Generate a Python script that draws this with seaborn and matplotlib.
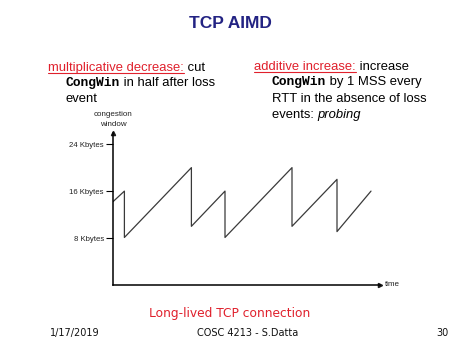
import matplotlib
matplotlib.use("Agg")
import matplotlib.pyplot as plt
import seaborn as sns
import pandas as pd
from matplotlib.lines import Line2D

# sawtooth of the congestion window (time units, Kbytes)
time_pts = [0.0, 1.14, 1.14, 7.84, 7.84, 11.2, 11.2, 17.9, 17.9, 22.4, 22.4, 25.8]
cwnd_kb = [14.2, 16.0, 8.1, 20.0, 10.0, 16.0, 8.1, 20.0, 10.0, 18.0, 9.1, 16.0]
tick_vals = [8, 16, 24]
tick_labels = ["8 Kbytes", "16 Kbytes", "24 Kbytes"]

W, H = 474, 355
RED = "#e0202c"
NAVY = "#232383"

sns.set_theme(style="white")
plt.rcParams['font.family'] = ['Liberation Sans', 'DejaVu Sans']

fig = plt.figure(figsize=(W / 100, H / 100), dpi=100)
fig.patch.set_facecolor("white")

# axes box in pixels: left 113, right 380, bottom 285, top 133
ax = fig.add_axes([113 / W, (H - 285) / H, (380 - 113) / W, (285 - 133) / H])
df = pd.DataFrame({"time": time_pts, "cwnd": cwnd_kb})
sns.lineplot(data=df, x="time", y="cwnd", sort=False, estimator=None,
             color="#3a3a3a", linewidth=0.9, ax=ax)
ax.set_xlim(0, 26.7)
ax.set_ylim(0, 25.9)
sns.despine(ax=ax)
for s in ["left", "bottom"]:
    ax.spines[s].set_color("black")
    ax.spines[s].set_linewidth(1.1)
ax.set_xticks([])
ax.set_yticks(tick_vals)
ax.set_yticklabels(tick_labels, fontsize=5.6, color="#222222")
ax.tick_params(axis="y", direction="out", length=5, width=0.8, color="black",
               left=True, pad=1.5)
ax.set_xlabel("")
ax.set_ylabel("")
ax.plot(1, 0, ">k", markersize=3, transform=ax.transAxes, clip_on=False)
ax.plot(0, 1, "^k", markersize=3, transform=ax.transAxes, clip_on=False)

fig.text(385 / W, 1 - 285 / H, "time", fontsize=5.8, va="center", ha="left", color="#222222")
fig.text(113 / W, 1 - 115 / H, "congestion", fontsize=5.8, ha="center", va="center", color="#222222")
fig.text(113 / W, 1 - 124.5 / H, "window", fontsize=5.8, ha="center", va="center", color="#222222")

# title
fig.text(230 / W, 1 - 27.5 / H, "TCP AIMD", fontsize=12.5, fontweight="bold",
         color=NAVY, ha="center", va="baseline")

renderer = fig.canvas.get_renderer()


def put_line(x, y, pieces, size=9.4):
    # place text pieces one after another on a common baseline (pixel coords)
    for text, style in pieces:
        style = dict(style)
        underline = style.pop("underline", False)
        t = fig.text(x / W, 1 - y / H, text, fontsize=size, va="baseline",
                     ha="left", **style)
        bb = t.get_window_extent(renderer)
        x1 = bb.x1
        if underline:
            fig.add_artist(Line2D([x / W, x1 / W], [1 - (y + 2) / H] * 2,
                                  color=style.get("color", "black"), linewidth=0.8,
                                  transform=fig.transFigure))
        x = x1


red_u = {"color": RED, "underline": True}
blk = {"color": "black"}
mono = {"color": "black", "family": ["Liberation Mono"], "fontweight": "bold"}

put_line(48, 71, [("multiplicative decrease:", red_u), (" cut", blk)])
put_line(66, 86, [("CongWin", mono), (" in half after loss", blk)])
put_line(66, 102, [("event", blk)])

put_line(254, 70, [("additive increase:", red_u), (" increase", blk)])
put_line(272, 85, [("CongWin", mono), (" by 1 MSS every", blk)])
put_line(272, 101.5, [("RTT in the absence of loss", blk)])
put_line(272, 118, [("events: ", blk), ("probing", {"color": "black", "style": "italic"})])

fig.text(230 / W, 1 - 314 / H, "Long-lived TCP connection", fontsize=8.8,
         color=RED, ha="center", va="center", family=["DejaVu Sans"])

fig.text(50 / W, 1 - 333 / H, "1/17/2019", fontsize=7, ha="left", va="center",
         family=["DejaVu Sans"], color="#111111")
fig.text(248 / W, 1 - 333 / H, "COSC 4213 - S.Datta", fontsize=7, ha="center",
         va="center", family=["DejaVu Sans"], color="#111111")
fig.text(449 / W, 1 - 333 / H, "30", fontsize=7, ha="right", va="center",
         family=["DejaVu Sans"], color="#111111")

fig.savefig("out.png", dpi=100)
